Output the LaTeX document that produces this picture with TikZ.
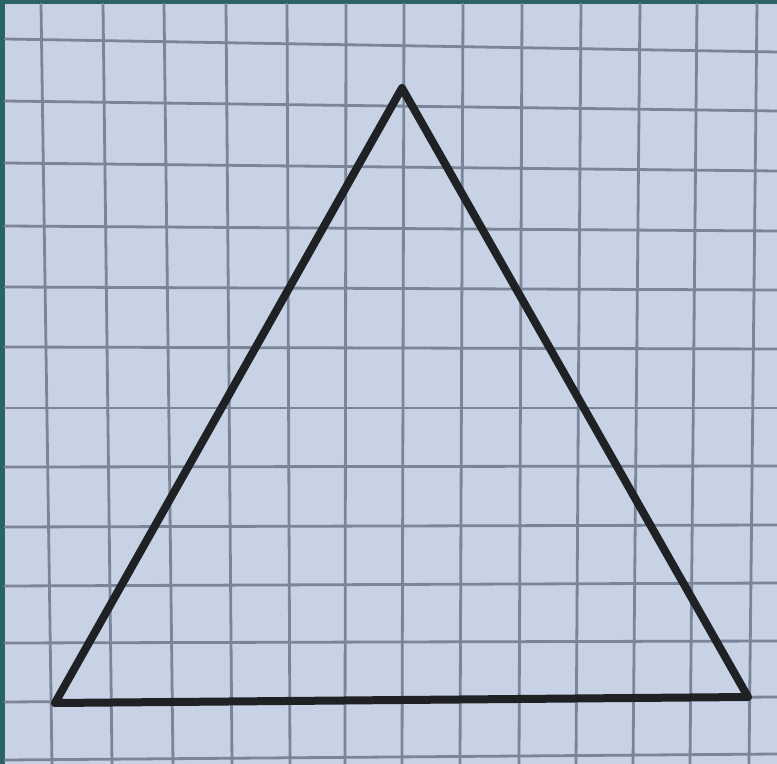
\documentclass[tikz,border=0pt]{standalone}
\usepackage{xcolor}
\usepackage{tikz}
\usetikzlibrary{calc,positioning}
\definecolor{paperblue}{RGB}{199, 210, 228}
\definecolor{gridgray}{RGB}{122, 133, 153}
\definecolor{pencil}{RGB}{32, 33, 36}
\definecolor{deskteal}{RGB}{42, 101, 99}

\begin{document}
\begin{tikzpicture}[x=0.5pt, y=-0.5pt, line cap=round]
        % Background (photo frame)
        \fill[deskteal] (0, 0) rectangle (777, 764);
        \fill[paperblue] (5, 4) rectangle (777, 764);
        \useasboundingbox (0, 0) rectangle (777, 764);

        % Grid lines (slightly tilted, as on the photo)
        \foreach \xt/\xb in {41/52, 103/112, 164/173, 226/232, 287/290, 346/345, 404/402,
                             463/460, 522/519, 581/576, 640/633, 697/690, 757/749}
            \draw[gridgray, line width=1.4pt] (\xt, 4) -- (\xb, 764);
        \foreach \yl/\yr in {39/52, 101/111, 163/171, 226/231, 287/290, 347/349, 408/408,
                             467/466, 527/525, 586/583, 643/641, 702/697, 760/754}
            \draw[gridgray, line width=1.4pt] (5, \yl) -- (777, \yr);

        % Triangle corners
        \coordinate (apex) at (402, 88);
        \coordinate (left) at (55, 703);
        \coordinate (right) at (748, 697);

        % Pencil triangle
        \draw[pencil, line width=4pt, line join=round] (apex) -- (right) -- (left) -- cycle;
    \end{tikzpicture}
\end{document}
